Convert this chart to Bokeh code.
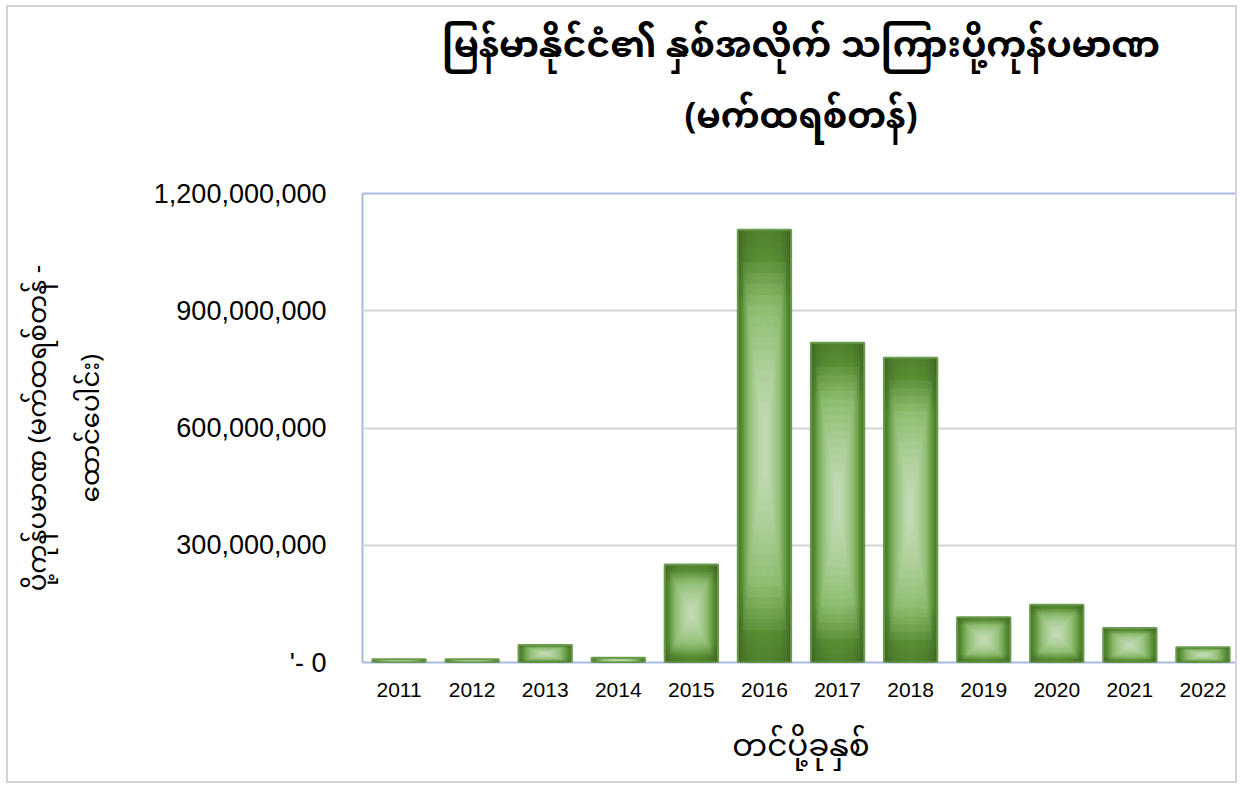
from bokeh.plotting import figure
from bokeh.models import Title, FixedTicker, NumeralTickFormatter, ColumnDataSource
from bokeh.embed import file_html
from bokeh.resources import INLINE

# ---- data ----
years = ["2011", "2012", "2013", "2014", "2015", "2016",
         "2017", "2018", "2019", "2020", "2021", "2022"]
exports = [8e6, 8e6, 45e6, 12e6, 251e6, 1107e6,
           818e6, 780e6, 116e6, 148e6, 88e6, 39e6]
y_ticks = [0, 300e6, 600e6, 900e6, 1200e6]

title_line1 = "မြန်မာနိုင်ငံ၏ နှစ်အလိုက် သကြားပို့ကုန်ပမာဏ"
title_line2 = "(မက်ထရစ်တန်)"
x_title = "တင်ပို့ခုနှစ်"
y_title_line1 = "ပို့ကုန်ပမာဏ (မက်ထရစ်တန် -"
y_title_line2 = "ထောင်ပေါင်း)"

MY_FONT = "Noto Sans Myanmar"
LAT_FONT = "Liberation Sans"

p = figure(x_range=years, y_range=(0, 1.2e9), width=1231, height=778,
           output_backend="svg", toolbar_location=None,
           min_border_left=354, min_border_right=0, min_border_top=186,
           min_border_bottom=123)
p.x_range.range_padding = 0
p.styles = {"border": "2px solid #d3d3d3", "margin-left": "6px", "margin-top": "5px"}

BAR_W = 0.73
src = ColumnDataSource(dict(x=years, top=exports))


def mix(c1, c2, t):
    a = [int(c1[i:i + 2], 16) for i in (1, 3, 5)]
    b = [int(c2[i:i + 2], 16) for i in (1, 3, 5)]
    return "#%02x%02x%02x" % tuple(round(a[k] + (b[k] - a[k]) * t) for k in range(3))


def ramp(stops, s):
    for (s0, c0), (s1, c1) in zip(stops[:-1], stops[1:]):
        if s1 <= s <= s0:
            return mix(c0, c1, (s0 - s) / (s0 - s1))
    return stops[-1][1]


# 1) horizontal shading: full-height strips, dark at the sides
h_stops = [(1.0, "#4a7a2a"), (0.85, "#5a9335"), (0.6, "#66a63e"), (0.0, "#6dae46")]
M = 14
for k in range(M):
    wf = 1 - k / M * 0.95
    p.vbar(x="x", top="top", bottom=0, width=BAR_W * wf, source=src,
           fill_color=ramp(h_stops, wf), line_color=None)

# 2) darker towards the top and bottom ends
for j in range(12):
    f = 0.015 * (j + 1)
    sr = ColumnDataSource(dict(x=years,
                               top=[v for v in exports],
                               bottom=[v * (1 - f) for v in exports]))
    p.vbar(x="x", top="top", bottom="bottom", width=BAR_W, source=sr,
           fill_color="#2d5216", fill_alpha=0.04, line_color=None)
    sr2 = ColumnDataSource(dict(x=years, top=[v * f for v in exports],
                                bottom=[0 for v in exports]))
    p.vbar(x="x", top="top", bottom="bottom", width=BAR_W, source=sr2,
           fill_color="#2d5216", fill_alpha=0.04, line_color=None)

# 3) soft light glow in the middle of each bar
G = 16
for k in range(G):
    s = 0.85 - k * (0.8 / G)
    hf = s
    wf = min(1.0, s * 0.95)
    sr = ColumnDataSource(dict(x=years,
                               top=[v * (1 + hf) / 2 for v in exports],
                               bottom=[v * (1 - hf) / 2 for v in exports]))
    p.vbar(x="x", top="top", bottom="bottom", width=BAR_W * wf, source=sr,
           fill_color="#ffffff", fill_alpha=0.06, line_color=None)

# outline
p.vbar(x="x", top="top", bottom=0, width=BAR_W, source=src,
       fill_color=None, line_color="#6a9a4e", line_width=2)

# frame & grid
p.outline_line_color = "#a8bce0"
p.outline_line_width = 2
p.xgrid.grid_line_color = None
p.ygrid.grid_line_color = "#d3d3d3"
p.ygrid.grid_line_width = 2

# axes
p.yaxis.ticker = FixedTicker(ticks=y_ticks)
p.yaxis.formatter = NumeralTickFormatter(format="0,0")
p.yaxis.major_label_overrides = {0: "'- 0"}
for ax in (p.xaxis[0], p.yaxis[0]):
    ax.axis_line_color = None
    ax.major_tick_line_color = None
    ax.minor_tick_line_color = None
    ax.major_label_text_color = "#000000"
    ax.major_label_text_font = LAT_FONT
    ax.axis_label_text_font = MY_FONT
    ax.axis_label_text_font_style = "normal"
    ax.axis_label_text_color = "#000000"
p.yaxis.major_label_text_font_size = "27px"
p.xaxis.major_label_text_font_size = "21px"
p.yaxis.major_label_standoff = 30
p.xaxis.major_label_standoff = 14
p.xaxis.axis_label = x_title
p.xaxis.axis_label_text_font_size = "31px"
p.xaxis.axis_label_standoff = 15
p.yaxis.axis_label = y_title_line1 + "\n" + y_title_line2
p.yaxis.axis_label_text_font_size = "26px"
p.yaxis.axis_label_text_line_height = 0.94
p.yaxis.axis_label_standoff = 30

# titles (line 2 is added first: it sits closest to the plot)
t2 = Title(text=title_line2, align="center", text_font=MY_FONT,
           text_font_size="35px", text_font_style="bold", standoff=72,
           text_color="#000000")
t1 = Title(text=title_line1, align="center", text_font=MY_FONT,
           text_font_size="36px", text_font_style="bold", standoff=-88,
           text_color="#000000")
p.add_layout(t2, "above")
p.add_layout(t1, "above")

open("out.html", "w").write(file_html(p, INLINE))
